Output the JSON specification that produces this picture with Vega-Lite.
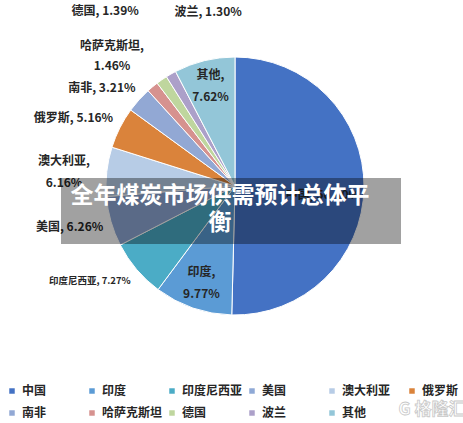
{
  "$schema": "https://vega.github.io/schema/vega-lite/v6.json",
  "width": 456,
  "height": 372,
  "autosize": "none",
  "padding": {"left": 7, "top": 0, "right": 0, "bottom": 51},
  "background": "white",
  "config": {"view": {"stroke": null}, "font": "Noto Sans CJK SC"},
  "layer": [
    {
      "data": {"values": [
        {"i": 1, "country": "中国", "value": 50.40, "lbl": "中国, 50.40%"},
        {"i": 2, "country": "印度", "value": 9.77, "lbl": "印度,\n9.77%"},
        {"i": 3, "country": "印度尼西亚", "value": 7.27, "lbl": "印度尼西亚, 7.27%"},
        {"i": 4, "country": "美国", "value": 6.26, "lbl": "美国, 6.26%"},
        {"i": 5, "country": "澳大利亚", "value": 6.16, "lbl": "澳大利亚,\n6.16%"},
        {"i": 6, "country": "俄罗斯", "value": 5.16, "lbl": "俄罗斯, 5.16%"},
        {"i": 7, "country": "南非", "value": 3.21, "lbl": "南非, 3.21%"},
        {"i": 8, "country": "哈萨克斯坦", "value": 1.46, "lbl": "哈萨克斯坦,\n1.46%"},
        {"i": 9, "country": "德国", "value": 1.39, "lbl": "德国, 1.39%"},
        {"i": 10, "country": "波兰", "value": 1.30, "lbl": "波兰, 1.30%"},
        {"i": 11, "country": "其他", "value": 7.62, "lbl": "其他,\n7.62%"}
      ]},
      "layer": [
        {
          "mark": {"type": "arc", "outerRadius": 129, "stroke": "#ffffff", "strokeWidth": 1},
          "encoding": {
            "theta": {"field": "value", "type": "quantitative", "stack": true},
            "order": {"field": "i", "type": "quantitative"},
            "color": {
              "field": "country", "type": "nominal",
              "scale": {
                "domain": ["中国", "印度", "印度尼西亚", "美国", "澳大利亚", "俄罗斯", "南非", "哈萨克斯坦", "德国", "波兰", "其他"],
                "range": ["#4472C4", "#5B9BD5", "#4BACC6", "#8FA9D6", "#B7CCE6", "#DA833B", "#92A8D4", "#D6928F", "#BFD69E", "#ACA0C9", "#93C6D8"]
              },
              "legend": {
                "orient": "none", "legendX": -1, "legendY": 385,
                "direction": "horizontal", "columns": 6, "gridAlign": "all",
                "title": null, "symbolType": "square", "symbolSize": 30, "symbolStrokeWidth": 0,
                "labelFontSize": 12, "labelFont": "Noto Sans CJK SC", "labelFontWeight": "bold",
                "labelColor": "#262626", "columnPadding": 3, "rowPadding": 10,
                "labelOffset": 4, "padding": 0
              }
            }
          }
        },
        {
          "mark": {"type": "text", "radius": 103, "dy": -11, "lineBreak": "\n", "lineHeight": 22, "fontSize": 12, "fontWeight": "bold", "color": "#262626"},
          "encoding": {
            "theta": {"field": "value", "type": "quantitative", "stack": true},
            "order": {"field": "i", "type": "quantitative"},
            "detail": {"field": "country", "type": "nominal"},
            "text": {"condition": {"test": "datum.country === '其他' || datum.country === '印度'", "field": "lbl"}, "value": ""}
          }
        },
        {
          "mark": {"type": "text", "radius": 88, "dy": 8, "fontSize": 12, "fontWeight": "bold", "color": "#262626"},
          "encoding": {
            "theta": {"field": "value", "type": "quantitative", "stack": true},
            "order": {"field": "i", "type": "quantitative"},
            "detail": {"field": "country", "type": "nominal"},
            "text": {"condition": {"test": "datum.country === '中国'", "field": "lbl"}, "value": ""}
          }
        },
        {
          "mark": {"type": "text", "radius": 172, "dy": -6, "lineBreak": "\n", "lineHeight": 22, "fontSize": 12, "fontWeight": "bold", "color": "#262626"},
          "encoding": {
            "theta": {"field": "value", "type": "quantitative", "stack": true},
            "order": {"field": "i", "type": "quantitative"},
            "detail": {"field": "country", "type": "nominal"},
            "text": {"condition": {"test": "datum.country === '美国' || datum.country === '澳大利亚'", "field": "lbl"}, "value": ""}
          }
        },
        {
          "mark": {"type": "text", "radius": 172, "dx": -8, "dy": 10, "fontSize": 12, "fontWeight": "bold", "color": "#262626"},
          "encoding": {
            "theta": {"field": "value", "type": "quantitative", "stack": true},
            "order": {"field": "i", "type": "quantitative"},
            "detail": {"field": "country", "type": "nominal"},
            "text": {"condition": {"test": "datum.country === '俄罗斯'", "field": "lbl"}, "value": ""}
          }
        },
        {
          "mark": {"type": "text", "radius": 172, "dx": -5, "dy": 17, "fontSize": 12, "fontWeight": "bold", "color": "#262626"},
          "encoding": {
            "theta": {"field": "value", "type": "quantitative", "stack": true},
            "order": {"field": "i", "type": "quantitative"},
            "detail": {"field": "country", "type": "nominal"},
            "text": {"condition": {"test": "datum.country === '南非'", "field": "lbl"}, "value": ""}
          }
        },
        {
          "mark": {"type": "text", "radius": 172, "dx": -14, "dy": -16, "fontSize": 9.5, "fontWeight": "bold", "color": "#262626"},
          "encoding": {
            "theta": {"field": "value", "type": "quantitative", "stack": true},
            "order": {"field": "i", "type": "quantitative"},
            "detail": {"field": "country", "type": "nominal"},
            "text": {"condition": {"test": "datum.country === '印度尼西亚'", "field": "lbl"}, "value": ""}
          }
        },
        {
          "mark": {"type": "text", "radius": 172, "dx": -13, "dy": -8, "lineBreak": "\n", "lineHeight": 20, "fontSize": 12, "fontWeight": "bold", "color": "#262626"},
          "encoding": {
            "theta": {"field": "value", "type": "quantitative", "stack": true},
            "order": {"field": "i", "type": "quantitative"},
            "detail": {"field": "country", "type": "nominal"},
            "text": {"condition": {"test": "datum.country === '哈萨克斯坦'", "field": "lbl"}, "value": ""}
          }
        },
        {
          "mark": {"type": "text", "radius": 218, "dx": -6, "dy": 4, "fontSize": 12, "fontWeight": "bold", "color": "#262626"},
          "encoding": {
            "theta": {"field": "value", "type": "quantitative", "stack": true},
            "order": {"field": "i", "type": "quantitative"},
            "detail": {"field": "country", "type": "nominal"},
            "text": {"condition": {"test": "datum.country === '德国'", "field": "lbl"}, "value": ""}
          }
        },
        {
          "mark": {"type": "text", "radius": 177, "dx": 61, "dy": -20, "fontSize": 12, "fontWeight": "bold", "color": "#262626"},
          "encoding": {
            "theta": {"field": "value", "type": "quantitative", "stack": true},
            "order": {"field": "i", "type": "quantitative"},
            "detail": {"field": "country", "type": "nominal"},
            "text": {"condition": {"test": "datum.country === '波兰'", "field": "lbl"}, "value": ""}
          }
        }
      ]
    },
    {
      "data": {"values": [{}]},
      "mark": {"type": "rect", "x": 54, "x2": 394, "y": 178, "y2": 244, "fill": "#000000", "fillOpacity": 0.37},
      "encoding": {}
    },
    {
      "data": {"values": [{}]},
      "mark": {"type": "text", "x": 213, "y": 196, "align": "center", "baseline": "middle", "fontSize": 23, "fontWeight": "bold", "lineHeight": 27, "color": "#ffffff", "font": "Noto Sans CJK SC"},
      "encoding": {"text": {"value": ["全年煤炭市场供需预计总体平", "衡"]}}
    },
    {
      "data": {"values": [{}]},
      "mark": {"type": "text", "x": 425, "y": 410, "align": "center", "baseline": "middle", "fontSize": 17, "fontWeight": "bold", "fillOpacity": 0, "stroke": "#c8c8c8", "strokeWidth": 0.8, "font": "Noto Sans CJK SC"},
      "encoding": {"text": {"value": "G 格隆汇"}}
    }
  ]
}
